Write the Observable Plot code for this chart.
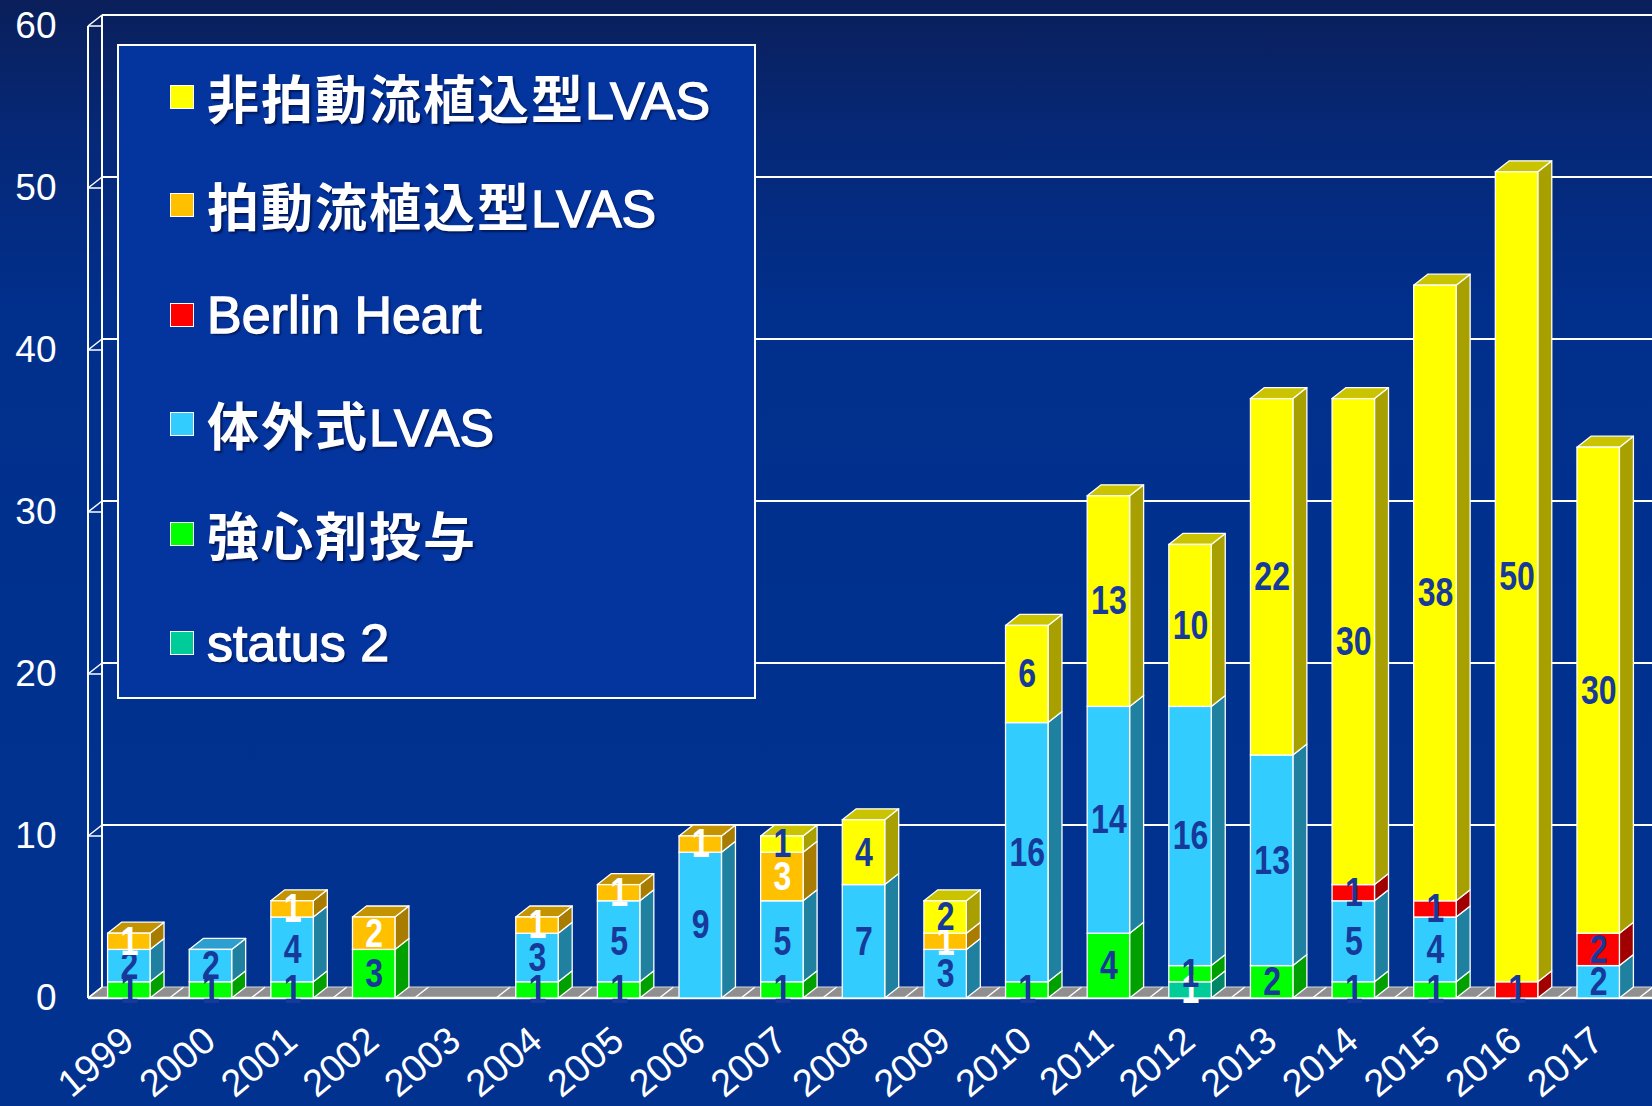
<!DOCTYPE html>
<html>
<head>
<meta charset="utf-8">
<script src="https://cdn.jsdelivr.net/npm/d3@7"></script>
<script src="https://cdn.jsdelivr.net/npm/@observablehq/plot@0.6"></script>
<style>
  html, body { margin: 0; padding: 0; }
  body {
    width: 1652px; height: 1106px; overflow: hidden;
    background: linear-gradient(to bottom, #0a1f5a 0%, #062877 12%, #012f8c 28%, #00318f 60%, #01328f 100%);
  }
  #wrap { position: relative; width: 1652px; height: 1106px; }
  #legend {
    position: absolute; left: 117px; top: 44px; width: 635px; height: 651px;
    border: 2px solid #ffffff; background: #04349d;
  }
  .item { position: absolute; left: 0; height: 60px; }
  .sw { position: absolute; left: 51px; width: 22px; height: 22px; border: 1.5px solid #fff; top: 18px; }
  .lab { position: absolute; left: 88px; top: 0; line-height: 60px; white-space: nowrap;
         color: #fff; font-size: 52px; text-shadow: 2px 2px 2px rgba(0,0,30,0.55); }
  .cjk { font-family: "Noto Sans CJK JP", sans-serif; font-weight: 700; letter-spacing: 2px; }
  .lat { font-family: "Liberation Sans", Arial, sans-serif; font-weight: 400; -webkit-text-stroke: 1.3px #fff; }
</style>
</head>
<body>
<div id="wrap"></div>
<script>
// ---------- data ----------
const years = ["1999","2000","2001","2002","2003","2004","2005","2006","2007","2008","2009","2010","2011","2012","2013","2014","2015","2016","2017"];
// stack order, bottom to top
const seriesNames = ["status 2", "強心剤投与", "体外式LVAS", "Berlin Heart", "拍動流植込型LVAS", "非拍動流植込型LVAS"];
const status2     = [0,0,0,0,0,0,0,0,0,0,0,0,0,1,0,0,0,0,0];
const inotropes   = [1,1,1,3,0,1,1,0,1,0,0,1,4,1,2,1,1,0,0];
const externalLVAS= [2,2,4,0,0,3,5,9,5,7,3,16,14,16,13,5,4,0,2];
const berlinHeart = [0,0,0,0,0,0,0,0,0,0,0,0,0,0,0,1,1,1,2];
const pulsatile   = [1,0,1,2,0,1,1,1,3,0,1,0,0,0,0,0,0,0,0];
const continuous  = [0,0,0,0,0,0,0,0,1,4,2,6,13,10,22,30,38,50,30];
const yTicks = [0,10,20,30,40,50,60];

// ---------- styles ----------
const frontColors = ["#00cc99", "#00ff00", "#33ccff", "#ff0000", "#ffc000", "#ffff00"];
const sideColors  = ["#008866", "#00a000", "#1f80a0", "#a00000", "#a87c00", "#a8a000"];
const topColors   = ["#00a07a", "#00c400", "#2a9fd0", "#c40000", "#c49400", "#cac400"];
const labelColors = ["#ffffff", "#16399a", "#16399a", "#16399a", "#ffffff", "#16399a"];
const DX = 14, DY = 11;

const seriesValues = [status2, inotropes, externalLVAS, berlinHeart, pulsatile, continuous];
const rows = [];
years.forEach((yr, i) => {
  let cum = 0, last = null;
  seriesValues.forEach((arr, s) => {
    const v = arr[i];
    if (v > 0) {
      last = {year: yr, s, series: seriesNames[s], value: v, y1: cum, y2: cum + v, top: false};
      rows.push(last);
      cum += v;
    }
  });
  if (last) last.top = true;
});

// walls, floor and grid on the back wall
function walls(index, scales, values, dims) {
  const x = scales.x, y = scales.y;
  const X0 = x.range()[0], W = dims.width, step = x.step();
  const y0 = y(0);
  const g = d3.create("svg:g");
  g.append("path")
    .attr("d", `M${X0},${y0}L${W},${y0}L${W},${y0 - DY}L${X0 + DX},${y0 - DY}Z`)
    .attr("fill", "#8f8f8f");
  for (let k = 0; k <= years.length; k++) {
    const b = X0 + k * step;
    g.append("line").attr("x1", b).attr("y1", y0).attr("x2", b + DX).attr("y2", y0 - DY)
      .attr("stroke", "#ffffff").attr("stroke-width", 1.5);
  }
  g.append("line").attr("x1", X0 + DX).attr("x2", W).attr("y1", y0 - DY).attr("y2", y0 - DY)
    .attr("stroke", "#d8d8d8").attr("stroke-width", 1);
  g.append("line").attr("x1", X0).attr("x2", W).attr("y1", y0).attr("y2", y0)
    .attr("stroke", "#ffffff").attr("stroke-width", 2.5);
  yTicks.filter(t => t > 0).forEach(t => {
    g.append("line").attr("x1", X0 + DX).attr("x2", W).attr("y1", y(t) - DY).attr("y2", y(t) - DY)
      .attr("stroke", "#ffffff").attr("stroke-width", 2);
  });
  const yTop = y(d3.max(yTicks));
  g.append("line").attr("x1", X0).attr("x2", X0).attr("y1", y0).attr("y2", yTop)
    .attr("stroke", "#ffffff").attr("stroke-width", 2);
  g.append("line").attr("x1", X0 + DX).attr("x2", X0 + DX).attr("y1", y0 - DY).attr("y2", yTop - DY)
    .attr("stroke", "#ffffff").attr("stroke-width", 2);
  yTicks.forEach(t => {
    g.append("line").attr("x1", X0).attr("y1", y(t)).attr("x2", X0 + DX).attr("y2", y(t) - DY)
      .attr("stroke", "#ffffff").attr("stroke-width", 1.5);
    g.append("line").attr("x1", X0).attr("y1", y(t)).attr("x2", X0 + DX - 1).attr("y2", y(t))
      .attr("stroke", "#ffffff").attr("stroke-width", 1.5);
  });
  return g.node();
}

// side and top faces of the bars
function faces(index, scales, values, dims) {
  const x = scales.x, y = scales.y, bw = x.bandwidth();
  const g = d3.create("svg:g").attr("stroke", "#ffffff").attr("stroke-width", 1.3).attr("stroke-linejoin", "round");
  rows.forEach(r => {
    const x1 = x(r.year) + bw, yb = y(r.y1), yt = y(r.y2);
    g.append("path")
      .attr("d", `M${x1},${yb}L${x1},${yt}L${x1 + DX},${yt - DY}L${x1 + DX},${yb - DY}Z`)
      .attr("fill", sideColors[r.s]);
    if (r.top) {
      const x0 = x(r.year);
      g.append("path")
        .attr("d", `M${x0},${yt}L${x1},${yt}L${x1 + DX},${yt - DY}L${x0 + DX},${yt - DY}Z`)
        .attr("fill", topColors[r.s]);
    }
  });
  return g.node();
}

const plot = Plot.plot({
  width: 1652,
  height: 1106,
  marginTop: 26,
  marginBottom: 108,
  marginLeft: 88,
  marginRight: 13,
  style: {background: "transparent", color: "#ffffff", fontSize: "37px", fontFamily: "'Liberation Sans', Arial, sans-serif"},
  x: {domain: years, paddingInner: 0.48, paddingOuter: 0.24, round: false, axis: null},
  y: {domain: [0, 60], ticks: yTicks, tickSize: 0, tickPadding: 32, label: null, tickFormat: d => String(d)},
  color: {type: "identity"},
  marks: [
    walls,
    faces,
    Plot.barY(rows, {x: "year", y1: "y1", y2: "y2", fill: d => frontColors[d.s], stroke: "#ffffff", strokeWidth: 1.3, inset: 0}),
    Plot.text(rows, {x: "year", y: d => (d.y1 + d.y2) / 2, text: d => String(d.value),
      fill: d => labelColors[d.s], fontSize: 40, fontWeight: "bold",
      fontFamily: "'Liberation Sans', Arial, sans-serif", className: "vlabel"}),
    Plot.text(years, {x: d => d, frameAnchor: "bottom", text: d => d, rotate: -40, textAnchor: "end",
      dx: 7, dy: 46, fontSize: 38, fill: "#ffffff"})
  ]
});

// condense the value labels horizontally around their anchor
d3.select(plot).selectAll(".vlabel text, g.vlabel text, text.vlabel").each(function() {
  const el = this;
  const t = el.getAttribute("transform");
  if (t && t.includes("translate")) {
    el.setAttribute("transform", t + " scale(0.8,1)");
  } else {
    const x = +el.getAttribute("x") || 0, y = +el.getAttribute("y") || 0;
    el.setAttribute("x", 0); el.setAttribute("y", 0);
    el.setAttribute("transform", `translate(${x},${y}) scale(0.8,1)`);
  }
});

const wrap = document.getElementById("wrap");
wrap.appendChild(plot);

// legend (top to bottom)
const legendOrder = [5, 4, 3, 2, 1, 0];
const legendCenters = [51, 159, 269, 378, 488, 597];
const legend = document.createElement("div");
legend.id = "legend";
legendOrder.forEach((s, k) => {
  const it = document.createElement("div");
  it.className = "item";
  it.style.top = (legendCenters[k] - 30) + "px";
  const sw = document.createElement("div");
  sw.className = "sw";
  sw.style.background = frontColors[s];
  const lb = document.createElement("div");
  lb.className = "lab";
  const runs = seriesNames[s].match(/[\u3000-\u9fff]+|[^\u3000-\u9fff]+/g);
  runs.forEach(r => {
    const sp = document.createElement("span");
    sp.className = /[\u3000-\u9fff]/.test(r) ? "cjk" : "lat";
    sp.textContent = r;
    lb.appendChild(sp);
  });
  it.appendChild(sw); it.appendChild(lb);
  legend.appendChild(it);
});
wrap.appendChild(legend);
</script>
</body>
</html>
